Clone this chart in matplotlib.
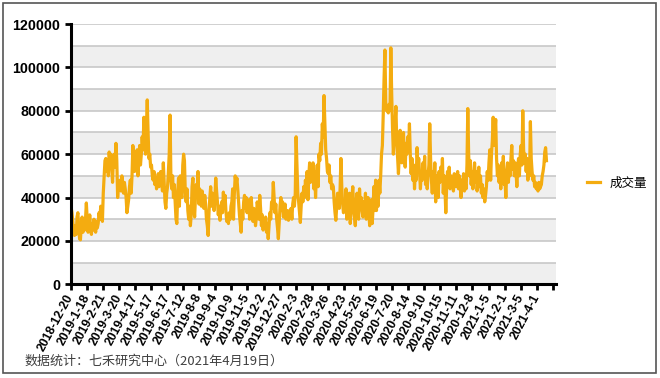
import matplotlib
matplotlib.use("Agg")
import matplotlib.pyplot as plt
from matplotlib.patches import Rectangle
import numpy as np

# x tick labels (every 19 trading days)
tick_labels = ["2018-12-20", "2019-1-18", "2019-2-21", "2019-3-20", "2019-4-17", "2019-5-17",
               "2019-6-17", "2019-7-12", "2019-8-8", "2019-9-4", "2019-10-9", "2019-11-5",
               "2019-12-2", "2019-12-27", "2020-2-3", "2020-2-28", "2020-3-26", "2020-4-23",
               "2020-5-25", "2020-6-19", "2020-7-20", "2020-8-14", "2020-9-10", "2020-10-15",
               "2020-11-11", "2020-12-8", "2021-1-5", "2021-2-1", "2021-3-5", "2021-4-1"]
label_step = 19
n_categories = 570

# daily volume (one list per 19-day block)
vol_a = [35500, 33000, 29000, 24000, 22500, 27000, 23000, 31000, 33000, 26000, 21000, 20500, 27000, 31000, 24000, 28000, 25000, 30000, 37500,
         30000, 24000, 27000, 32000, 26000, 23000, 28000, 25000, 30000, 27000, 24000, 29000, 26000, 28000, 33000, 30000, 36000, 34000, 29000,
         42000, 50000, 57000, 58000, 52000, 56000, 50000, 61000, 55000, 60000, 53000, 47000, 58000, 60000, 54000, 65000, 57000, 40000, 46000,
         46000, 48000, 43000, 50000, 45000, 42000, 47000, 44000, 40000, 33000, 36000, 39000, 45000, 48000, 42000, 50000, 64000, 56000, 52000,
         58000, 54000, 62000, 50000, 57000, 64000, 55000, 60000, 68000, 62000, 77000, 66000, 60000, 72000, 85000, 70000, 58000, 60000, 54000]
vol_b = [55000, 50000, 48000, 52000, 46000, 49000, 44000, 47000, 51000, 45000, 50000, 52000, 48000, 43000, 56000, 47000, 38000, 35000, 42000,
         45000, 52000, 60000, 78000, 48000, 44000, 50000, 40000, 46000, 38000, 30000, 28000, 42000, 49000, 36000, 50000, 42000, 40000, 55000,
         60000, 57000, 42000, 38000, 44000, 34000, 30000, 36000, 27000, 32000, 45000, 49000, 38000, 31000, 40000, 46000, 42000, 52000, 37000,
         44000, 40000, 36000, 43000, 38000, 35000, 41000, 37000, 30000, 27000, 22500, 33000, 40000, 45000, 36000, 42000, 38000, 34000, 40000,
         49000, 43000, 38000, 32000, 36000, 29500, 34000, 38000, 33000, 42500, 35000, 41000, 34000, 29000, 31000, 28000, 33000, 30000, 36000]
vol_c = [38000, 44000, 30000, 42000, 50000, 46000, 49000, 44000, 38000, 32000, 28000, 24000, 34000, 30000, 38000, 41000, 35000, 40000, 33000,
         36000, 39000, 30000, 36000, 40000, 33000, 29000, 35000, 32000, 27000, 31000, 38000, 35000, 30000, 41000, 35000, 27000, 32000, 25000,
         29000, 26000, 31000, 24000, 28000, 21000, 27000, 33000, 30000, 38000, 35000, 47000, 40000, 33000, 37000, 30000, 26000, 21000, 28000,
         36000, 40000, 34000, 38000, 31000, 35000, 37000, 30000, 33000, 34000, 29500, 33000, 31000, 35000, 30000, 37000, 40000, 36000, 42000,
         68000, 55000, 42000, 38000, 33000, 28500, 36000, 42000, 38000, 45000, 40000, 48000, 44000, 52000, 39000, 50000, 56000, 47000, 55000]
vol_d = [48000, 56000, 44000, 52000, 40000, 50000, 55000, 45000, 60000, 57000, 65000, 60000, 74000, 68000, 87000, 75000, 62000, 58000, 52000,
         51000, 55000, 47000, 50000, 44000, 46000, 45000, 38000, 33000, 29500, 36000, 42000, 39000, 35000, 44000, 58000, 45000, 37000, 33000,
         36000, 34000, 44000, 30000, 38000, 34000, 42000, 28000, 33000, 40000, 45000, 36000, 31000, 27000, 38000, 42000, 33000, 30000, 44000,
         36000, 40000, 34000, 31000, 38000, 35000, 42000, 30000, 36000, 40000, 33000, 27000, 32000, 39000, 28000, 35000, 45000, 34000, 48000,
         34000, 44000, 36000, 48000, 42000, 50000, 60000, 64000, 78000, 95000, 108000, 84000, 80000, 82000, 79000, 83000, 80000, 109000, 88000]
vol_e = [72000, 60000, 68000, 74000, 82000, 66000, 58000, 51000, 60000, 71000, 62000, 56000, 64000, 70000, 58000, 54000, 65000, 60000, 68000,
         62000, 74000, 60000, 51000, 58000, 48000, 55000, 44000, 52000, 48000, 63000, 55000, 58000, 51000, 44000, 52000, 48000, 56000, 50000,
         59000, 46000, 52000, 44000, 50000, 55000, 74000, 58000, 48000, 42000, 52000, 45000, 56000, 38000, 50000, 44000, 40000, 52000, 47000,
         54000, 48000, 58000, 42000, 50000, 44000, 33000, 45000, 52000, 47000, 54000, 44000, 50000, 46000, 49000, 43000, 51000, 47000, 45000,
         48000, 52000, 44000, 50000, 46000, 40000, 48000, 45000, 51000, 43000, 47000, 44000, 55000, 81000, 60000, 50000, 57000, 46000, 52000]
vol_f = [44000, 50000, 56000, 47000, 52000, 43000, 48000, 54000, 45000, 50000, 42000, 46000, 40000, 44000, 38000, 41000, 45000, 52000, 48000,
         56000, 62000, 48000, 60000, 66000, 77000, 64000, 70000, 76000, 58000, 50000, 55000, 47000, 52000, 44000, 56000, 49000, 59000, 46000,
         48000, 40000, 52000, 56000, 47000, 55000, 50000, 58000, 64000, 53000, 57000, 50000, 56000, 52000, 45000, 54000, 58000, 50000, 60000,
         64000, 55000, 80000, 62000, 56000, 60000, 52000, 58000, 48000, 55000, 50000, 75000, 58000, 52000, 48000, 50000, 45000, 47000, 44000,
         46000, 43000, 47000, 44000, 45000, 46000, 50000, 52000, 55000, 61000, 63000, 57000]

volume = np.array(vol_a + vol_b + vol_c + vol_d + vol_e + vol_f, dtype=float)
series_name = "成交量"
footer = "数据统计：七禾研究中心（2021年4月19日）"

W, H = 660, 378
fig = plt.figure(figsize=(W / 100, H / 100), dpi=100)
fig.patch.set_facecolor("white")

left_px, right_px, top_px, bottom_px = 70.7, 555.5, 24.0, 284.3
ax = fig.add_axes([left_px / W, 1 - bottom_px / H, (right_px - left_px) / W, (bottom_px - top_px) / H])

px_per_cat = (552.8 - 70.7) / n_categories
x = np.arange(len(volume))
ax.set_xlim(-0.5, -0.5 + (right_px - left_px) / px_per_cat)
ax.set_ylim(0, 120000)

# alternating bands and gridlines
for lo in range(0, 120000, 20000):
    ax.axhspan(lo, lo + 10000, color="#efefef", zorder=0, lw=0)
for g in range(10000, 120001, 10000):
    ax.axhline(g, color="#c4c4c4", lw=1.1, zorder=1)

(series_line,) = ax.plot(x, volume, color="#F4AC10", lw=2.3, solid_joinstyle="round",
                         zorder=3, label=series_name)

for s in ["top", "right"]:
    ax.spines[s].set_visible(False)
for s in ["left", "bottom"]:
    ax.spines[s].set_linewidth(2.2)
    ax.spines[s].set_color("black")
    ax.spines[s].set_zorder(4)

ax.set_yticks(np.arange(0, 120001, 20000))
ax.set_yticklabels([str(v) for v in range(0, 120001, 20000)],
                   fontfamily=["Liberation Sans", "DejaVu Sans"], fontweight="bold", fontsize=10.3)
ax.tick_params(axis="y", direction="out", length=4.5, width=2, pad=3, colors="black")

ticks = [-0.5 + label_step * k for k in range(len(tick_labels) + 1)]
ax.set_xticks(ticks)
ax.set_xticklabels(tick_labels + [""], rotation=62, ha="right", va="center", rotation_mode="anchor",
                   fontfamily=["Liberation Sans", "DejaVu Sans"], fontweight="bold", fontsize=8.8)
ax.tick_params(axis="x", direction="out", length=4.5, width=2, pad=3, colors="black")

fig.legend(handles=[series_line], labels=[series_name], loc="center left",
           bbox_to_anchor=(576 / W, 1 - 183 / H), frameon=False,
           handlelength=1.0, handletextpad=0.8,
           prop={"family": ["Noto Sans CJK SC", "DejaVu Sans"], "size": 9})

fig.text(25 / W, 1 - 361 / H, footer, fontsize=9.4, color="#404040",
         family=["Noto Sans CJK SC", "DejaVu Sans"], ha="left", va="center")

fig.add_artist(Rectangle((2.5 / W, 1 - 373 / H), (656 - 2.5) / W, (373 - 2.5) / H,
                         transform=fig.transFigure, fill=False, edgecolor="#555555", lw=1.2))

fig.savefig("out.png", dpi=100, facecolor="white")
